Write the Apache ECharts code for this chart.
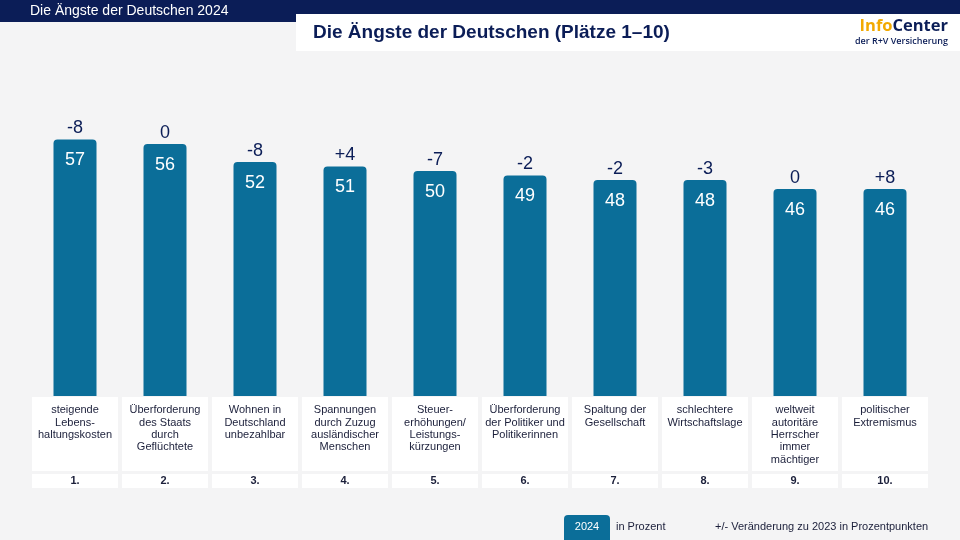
<!DOCTYPE html>
<html><head><meta charset="utf-8">
<script src="https://cdn.jsdelivr.net/npm/echarts@6/dist/echarts.min.js"></script>
<style>html,body{margin:0;padding:0;background:#f4f4f5}#c{width:960px;height:540px}</style>
</head><body><div id="c"></div>
<script>
const categories = [
  "steigende\nLebens-\nhaltungskosten",
  "Überforderung\ndes Staats\ndurch\nGeflüchtete",
  "Wohnen in\nDeutschland\nunbezahlbar",
  "Spannungen\ndurch Zuzug\nausländischer\nMenschen",
  "Steuer-\nerhöhungen/\nLeistungs-\nkürzungen",
  "Überforderung\nder Politiker und\nPolitikerinnen",
  "Spaltung der\nGesellschaft",
  "schlechtere\nWirtschaftslage",
  "weltweit\nautoritäre\nHerrscher\nimmer\nmächtiger",
  "politischer\nExtremismus"
];
const ranks = ["1.","2.","3.","4.","5.","6.","7.","8.","9.","10."];
const values2024 = [57,56,52,51,50,49,48,48,46,46];
const changes = [-8,0,-8,4,-7,-2,-2,-3,0,8];

const NAVY = '#0b1d57';
const BAR = '#0b6e99';
const TXT = '#1b1f3a';
const FONT = '"Liberation Sans", Arial, sans-serif';

const chart = echarts.init(document.getElementById('c'));
chart.setOption({
  backgroundColor: '#f4f4f5',
  textStyle: {fontFamily: FONT},
  animation: false,
  grid: {left: 30, right: 30, top: 36, bottom: 144},
  xAxis: [{
    type: 'category', data: categories, gridIndex: 0, position: 'bottom',
    axisLine: {show: false}, axisTick: {show: false},
    axisLabel: {
      interval: 0, margin: 1, color: TXT, fontSize: 11, fontFamily: FONT,
      lineHeight: 12.4, width: 86, height: 65, padding: [7, 0, 2, 0],
      backgroundColor: '#ffffff', verticalAlign: 'top', align: 'center', overflow: 'none'
    }
  }, {
    type: 'category', data: ranks, gridIndex: 0, position: 'bottom', offset: 77,
    axisLine: {show: false}, axisTick: {show: false},
    axisLabel: {
      interval: 0, margin: 1, color: TXT, fontSize: 11, fontWeight: 'bold', fontFamily: FONT,
      width: 86, height: 14, lineHeight: 14, backgroundColor: '#ffffff', verticalAlign: 'top', align: 'center'
    }
  }],
  yAxis: {type: 'value', min: 0, max: 80, show: false, splitLine: {show: false}},
  series: [{
    type: 'bar', data: values2024, barWidth: 43, xAxisIndex: 0,
    itemStyle: {color: BAR, borderRadius: [4, 4, 0, 0]},
    label: {show: true, position: 'insideTop', distance: 12, color: '#ffffff', fontSize: 18, fontFamily: FONT}
  }, {
    type: 'bar', data: values2024, barWidth: 43, barGap: '-100%', xAxisIndex: 0,
    itemStyle: {color: 'rgba(0,0,0,0)'}, silent: true,
    label: {
      show: true, position: 'top', distance: 2, color: NAVY, fontSize: 18, fontFamily: FONT,
      formatter: p => { const c = changes[p.dataIndex]; return c > 0 ? '+' + c : String(c); }
    }
  }],
  graphic: [
    {type: 'rect', left: 0, top: 0, shape: {width: 960, height: 22}, style: {fill: NAVY}, z: 10},
    {type: 'text', x: 30, y: 11, style: {text: 'Die Ängste der Deutschen 2024', fill: '#ffffff', font: '14px ' + FONT, verticalAlign: 'middle'}, z: 11},
    {type: 'rect', left: 296, top: 14, shape: {width: 664, height: 37}, style: {fill: '#ffffff'}, z: 12},
    {type: 'text', x: 313, y: 33, style: {text: 'Die Ängste der Deutschen (Plätze 1–10)', fill: NAVY, font: 'bold 19px ' + FONT, verticalAlign: 'middle'}, z: 13},
    {type: 'text', x: 948, y: 26, style: {rich: {o: {fill: '#f2a900', font: 'bold 16.5px "Open Sans", sans-serif'}, n: {fill: NAVY, font: 'bold 16.5px "Open Sans", sans-serif'}}, text: '{o|Info}{n|Center}', align: 'right', verticalAlign: 'middle'}, z: 13},
    {type: 'text', x: 948, y: 41, style: {text: 'der R+V Versicherung', fill: NAVY, font: '600 9px "Open Sans", sans-serif', align: 'right', verticalAlign: 'middle'}, z: 13},
    {type: 'rect', left: 564, top: 515, shape: {width: 46, height: 25, r: [4, 4, 0, 0]}, style: {fill: BAR}, z: 10},
    {type: 'text', x: 587, y: 527, style: {text: '2024', fill: '#ffffff', font: '11px ' + FONT, align: 'center', verticalAlign: 'middle'}, z: 11},
    {type: 'text', x: 616, y: 527, style: {text: 'in Prozent', fill: TXT, font: '11px ' + FONT, verticalAlign: 'middle'}, z: 11},
    {type: 'text', x: 715, y: 527, style: {text: '+/- Veränderung zu 2023 in Prozentpunkten', fill: TXT, font: '11px ' + FONT, verticalAlign: 'middle'}, z: 11}
  ]
});
</script></body></html>
